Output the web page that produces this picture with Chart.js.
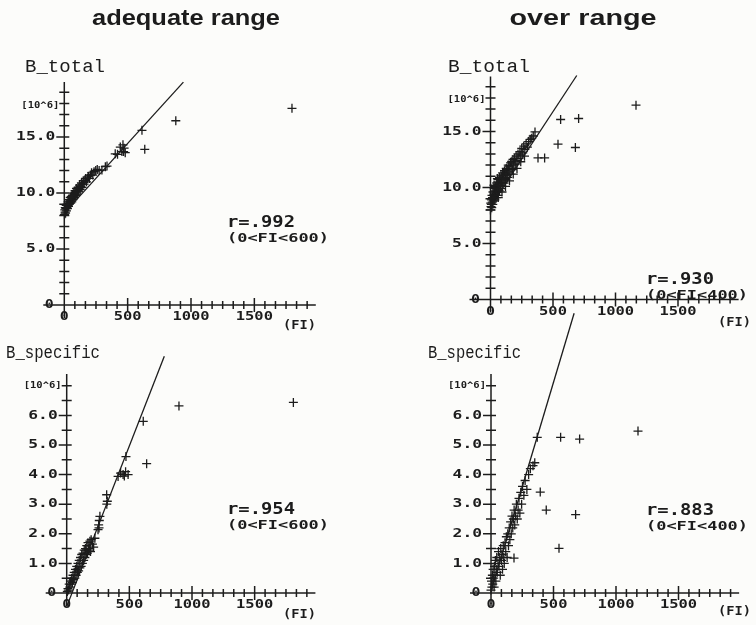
<!DOCTYPE html>
<html>
  <head>
    <title>B_total / B_specific vs FI</title>
    <style>
      body { margin: 0; background: #fcfcfa; }
      canvas { position: absolute; left: 0; top: 0; }
    </style>
  </head>
  <body>
    <script src="https://cdn.jsdelivr.net/npm/chart.js@4.4.0/dist/chart.umd.min.js"></script>

    <canvas id="c1" width="756" height="625"></canvas>
    <canvas id="c2" width="756" height="625"></canvas>
    <canvas id="c3" width="756" height="625"></canvas>
    <canvas id="c4" width="756" height="625"></canvas>

    <script>
      // ---- data (FI, value in 10^6) ----
      const adeqTotalPts = [
        [2,8.1],[4,8.5],[6,8.3],[8,8.7],[10,8.2],[12,8.6],[15,8.9],[17,8.4],[20,8.7],[22,9.0],
        [25,8.6],[28,8.9],[30,9.2],[33,8.8],[36,9.1],[38,9.4],[41,9.0],[44,9.3],[47,9.6],[50,9.1],
        [53,9.4],[56,9.7],[59,9.2],[62,9.5],[65,9.8],[68,9.4],[72,9.7],[75,10.0],[78,9.6],[82,9.9],
        [85,10.2],[88,9.8],[92,10.1],[96,10.4],[100,9.9],[104,10.2],[108,10.5],[112,10.1],[116,10.4],[120,10.7],
        [125,10.3],[130,10.6],[135,10.9],[140,10.5],[145,10.8],[150,11.1],[156,10.8],[162,11.1],[168,11.3],[175,11.0],
        [182,11.3],[190,11.5],[198,11.3],[206,11.6],[215,11.8],[225,11.6],[235,11.9],[248,12.0],[260,12.1],[275,12.0],
        [297,12.05],[324,12.35],[337,12.4],[402,13.5],[420,13.45],[442,14.1],[455,13.7],[463,14.3],[468,13.7],[481,13.6],
        [472,14.0],[613,15.6],[635,13.9],[880,16.45],[1797,17.56]
      ];
      const overTotalPts = [
        [0,8.0],[2,8.6],[4,8.3],[5,9.0],[7,8.5],[9,8.9],[10,8.2],[12,9.3],[14,8.7],[16,9.1],
        [18,8.5],[20,9.6],[22,9.0],[25,8.8],[27,9.4],[30,9.9],[32,9.2],[35,8.9],[37,9.7],[40,10.1],
        [42,9.4],[45,9.1],[48,9.9],[50,10.4],[53,9.6],[56,10.2],[58,9.3],[60,10.7],[63,9.9],[66,10.5],
        [70,9.7],[72,10.9],[75,10.2],[78,10.7],[80,9.9],[84,11.1],[87,10.4],[90,10.9],[94,10.1],[97,11.3],
        [100,10.6],[104,11.1],[108,10.4],[112,11.5],[115,10.8],[118,11.3],[122,10.7],[126,11.7],[130,11.1],[134,11.6],
        [138,10.9],[142,12.0],[146,11.4],[150,11.9],[155,11.2],[160,12.2],[165,11.7],[170,12.3],[175,11.6],[180,12.5],
        [186,12.0],[192,12.6],[198,12.1],[205,12.8],[212,12.4],[220,13.0],[228,12.6],[235,13.2],[243,12.9],[250,13.5],
        [258,13.1],[266,13.7],[275,13.4],[285,13.9],[295,13.6],[305,14.1],[318,14.3],[330,14.4],[342,14.6],[356,14.96],
        [62,9.1],[92,9.6],[120,10.1],[152,10.6],[182,11.2],[212,11.7],[242,12.3],[272,12.8],[28,10.2],[55,10.8],
        [380,12.64],[433,12.64],[540,13.87],[561,16.07],[679,13.57],[705,16.16],[1164,17.35]
      ];
      const adeqSpecPts = [
        [5,0.05],[10,0.15],[15,0.1],[20,0.3],[25,0.2],[30,0.4],[35,0.3],[40,0.5],[45,0.35],[50,0.6],
        [55,0.45],[60,0.7],[65,0.5],[70,0.8],[75,0.6],[80,0.9],[85,0.7],[90,1.0],[95,0.75],[100,1.1],
        [105,0.85],[110,1.2],[115,0.9],[120,1.3],[125,1.0],[130,1.35],[135,1.1],[140,1.45],[145,1.2],[150,1.5],
        [155,1.3],[160,1.6],[165,1.35],[170,1.7],[175,1.45],[180,1.5],[185,1.75],[190,1.4],[195,1.8],[205,1.65],
        [215,1.55],[225,1.85],[250,2.14],[255,2.3],[260,2.45],[265,2.59],[258,2.2],[319,3.32],[324,3.1],[320,3.0],
        [410,3.94],[430,4.05],[450,4.0],[460,3.95],[470,4.1],[490,4.0],[473,4.61],[611,5.8],[638,4.37],[896,6.32],
        [1809,6.44]
      ];
      const overSpecPts = [
        [0,0.1],[4,0.4],[7,0.2],[11,0.6],[14,0.3],[17,0.8],[21,0.5],[25,0.2],[28,0.9],[31,0.6],
        [35,1.1],[39,0.4],[42,0.8],[46,1.2],[50,0.7],[56,1.0],[60,1.4],[64,0.9],[70,1.2],[74,0.6],
        [78,1.5],[84,1.1],[88,1.3],[92,0.8],[98,1.6],[102,1.2],[106,1.0],[112,1.7],[118,1.4],[123,1.9],
        [129,1.2],[134,2.0],[140,1.6],[146,2.2],[151,1.8],[157,2.4],[162,2.0],[168,2.6],[174,2.2],[179,2.5],
        [185,2.8],[190,2.3],[196,2.6],[203,3.0],[210,2.5],[217,2.8],[224,3.2],[231,2.7],[238,3.4],[245,3.0],
        [252,3.6],[263,3.3],[273,3.8],[287,3.5],[301,4.0],[315,4.2],[336,4.3],[350,4.4],[184,1.18],[370,5.26],
        [394,3.41],[442,2.8],[544,1.51],[557,5.26],[677,2.65],[709,5.2],[1176,5.47]
      ];

      // regression lines (two end points each)
      const adeqTotalFit = [[0,8.2],[940,19.9]];
      const overTotalFit = [[0,8.3],[690,20.0]];
      const adeqSpecFit = [[0,-0.46],[779,8.0]];
      const overSpecFit = [[0,0.05],[665,9.45]];

      // axis ticks and labels
      const xTickValues = [500, 1000, 1500];
      const xTickLabels = ['500', '1000', '1500'];
      const totalTickValues = [5, 10, 15];
      const totalTickLabels = ['5.0', '10.0', '15.0'];
      const specTickValues = [1, 2, 3, 4, 5, 6];
      const specTickLabels = ['1.0', '2.0', '3.0', '4.0', '5.0', '6.0'];
      const rTexts = ['r=.992', 'r=.930', 'r=.954', 'r=.883'];
      const rangeTexts = ['(0<FI<600)', '(0<FI<400)', '(0<FI<600)', '(0<FI<400)'];

      const ink = '#1c1c1c';
      const plotFont = '"DejaVu Sans Mono"';

      // text squeezed/stretched to a given width
      function fitText(ctx, s, x, y, font, width, align) {
        ctx.save();
        ctx.font = font;
        const w0 = ctx.measureText(s).width;
        const k = width ? width / w0 : 1;
        const w = w0 * k;
        const left = align === 'right' ? x - w : align === 'center' ? x - w / 2 : x;
        ctx.translate(left, y);
        ctx.scale(k, 1);
        ctx.textAlign = 'left';
        ctx.fillText(s, 0, 0);
        ctx.restore();
      }

      // axes drawn in the old plotter style: ticks cross the axis line
      const plotAxes = {
        id: 'plotAxes',
        afterDraw(chart, args, o) {
          const ctx = chart.ctx;
          const xs = chart.scales.x, ys = chart.scales.y;
          const x0 = xs.getPixelForValue(0), y0 = ys.getPixelForValue(0);
          ctx.save();
          ctx.strokeStyle = ink;
          ctx.fillStyle = ink;
          ctx.lineWidth = 1.5;
          ctx.beginPath();
          ctx.moveTo(x0 - 21, y0);
          ctx.lineTo(xs.getPixelForValue(1985), y0);
          ctx.moveTo(x0, y0 + 13);
          ctx.lineTo(x0, ys.getPixelForValue(o.yEnd));
          const xStep = 500 / 6;
          for (let i = 1; i <= 23; i++) {
            const p = xs.getPixelForValue(i * xStep);
            const h = i % 6 === 0 ? 7 : 4;
            ctx.moveTo(p, y0 - h);
            ctx.lineTo(p, y0 + h);
          }
          for (let i = 1; i * o.yStep <= o.yLast + 1e-9; i++) {
            const v = i * o.yStep;
            const p = ys.getPixelForValue(v);
            const major = o.yTicks.some(t => Math.abs(t - v) < 1e-9);
            ctx.moveTo(x0 - (major ? 8 : 5), p);
            ctx.lineTo(x0 + 5, p);
          }
          ctx.stroke();

          ctx.textBaseline = 'middle';
          const tf = 'bold 12px ' + plotFont;
          o.yTicks.forEach((v, i) => {
            const s = o.yLabels[i];
            fitText(ctx, s, x0 - 9, ys.getPixelForValue(v), tf, s.length * 9.8, 'right');
          });
          fitText(ctx, '0', x0 - 15, y0, tf, 9, 'center');
          xTickValues.forEach((v, i) => {
            const s = xTickLabels[i];
            fitText(ctx, s, xs.getPixelForValue(v), y0 + 12, tf, s.length * 9.3, 'center');
          });
          fitText(ctx, '0', x0, y0 + 12, tf, 9, 'center');
          fitText(ctx, '[10^6]', x0 - 5, ys.getPixelForValue(o.unitAt), 'bold 9px ' + plotFont, 38, 'right');
          fitText(ctx, '(FI)', o.fiX, o.fiY, 'bold 13px ' + plotFont, 33, 'left');

          fitText(ctx, o.r, o.rX, o.rY, 'bold 15px ' + plotFont, 68, 'left');
          fitText(ctx, o.range, o.rX, o.rY + 16, 'bold 12px ' + plotFont, 102, 'left');

          ctx.textBaseline = 'alphabetic';
          fitText(ctx, o.name, o.nameX, o.nameY, '18px "Liberation Mono"', o.nameW, 'left');
          if (o.title) {
            fitText(ctx, o.title, o.titleX, 25, 'bold 22px "Liberation Sans"', o.titleW, 'center');
          }
          ctx.restore();
        }
      };

      function toXY(pts) {
        return pts.map(p => ({ x: p[0], y: p[1] }));
      }

      function makePanel(id, pts, fit, lay, ax) {
        const W = 756, H = 625;
        const right = lay.ox + 2000 * lay.kx;
        const top = lay.oy - lay.yMax * lay.ky;
        new Chart(document.getElementById(id), {
          type: 'scatter',
          data: {
            datasets: [
              {
                data: toXY(pts),
                pointStyle: 'cross',
                pointRadius: 4.5,
                borderColor: ink,
                borderWidth: 1.3,
                clip: false
              },
              {
                type: 'line',
                data: toXY(fit),
                borderColor: ink,
                borderWidth: 1.3,
                pointRadius: 0,
                clip: false
              }
            ]
          },
          options: {
            responsive: false,
            animation: false,
            events: [],
            layout: { padding: { left: lay.ox, top: top, right: W - right, bottom: H - lay.oy } },
            plugins: {
              legend: { display: false },
              tooltip: { enabled: false },
              plotAxes: ax
            },
            scales: {
              x: { type: 'linear', display: false, min: 0, max: 2000 },
              y: { type: 'linear', display: false, min: 0, max: lay.yMax }
            }
          },
          plugins: [plotAxes]
        });
      }

      makePanel('c1', adeqTotalPts, adeqTotalFit,
        { ox: 64.3, oy: 305, kx: 0.1267, ky: 11.2, yMax: 20 },
        { yEnd: 19.9, yStep: 1, yLast: 19, yTicks: totalTickValues, yLabels: totalTickLabels, unitAt: 17.8,
          fiX: 283, fiY: 326, r: rTexts[0], range: rangeTexts[0], rX: 227, rY: 223,
          name: 'B_total', nameX: 25, nameY: 72, nameW: 80, title: 'adequate range', titleX: 186, titleW: 188 });

      makePanel('c2', overTotalPts, overTotalFit,
        { ox: 490.5, oy: 299.5, kx: 0.125, ky: 11.2, yMax: 20 },
        { yEnd: 19.9, yStep: 1, yLast: 19, yTicks: totalTickValues, yLabels: totalTickLabels, unitAt: 17.8,
          fiX: 718, fiY: 323, r: rTexts[1], range: rangeTexts[1], rX: 646, rY: 280,
          name: 'B_total', nameX: 448, nameY: 72, nameW: 82, title: 'over range', titleX: 583, titleW: 147 });

      makePanel('c3', adeqSpecPts, adeqSpecFit,
        { ox: 66.7, oy: 593, kx: 0.1253, ky: 29.6, yMax: 8.2 },
        { yEnd: 7.4, yStep: 0.5, yLast: 7, yTicks: specTickValues, yLabels: specTickLabels, unitAt: 7.0,
          fiX: 283, fiY: 615, r: rTexts[2], range: rangeTexts[2], rX: 227, rY: 510,
          name: 'B_specific', nameX: 6, nameY: 358, nameW: 94 });

      makePanel('c4', overSpecPts, overSpecFit,
        { ox: 491, oy: 593, kx: 0.125, ky: 29.6, yMax: 9.6 },
        { yEnd: 7.4, yStep: 0.5, yLast: 7, yTicks: specTickValues, yLabels: specTickLabels, unitAt: 7.0,
          fiX: 718, fiY: 612, r: rTexts[3], range: rangeTexts[3], rX: 646, rY: 511,
          name: 'B_specific', nameX: 428, nameY: 358, nameW: 93 });
    </script>
  </body>
</html>
